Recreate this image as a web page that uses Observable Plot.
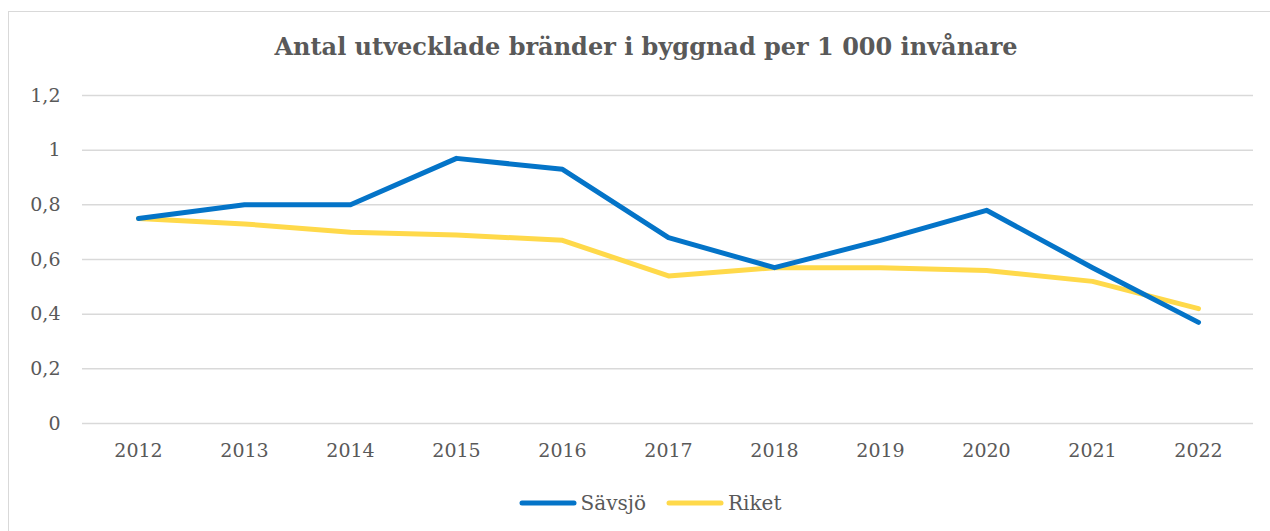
<!DOCTYPE html>
<html>
<head>
<meta charset="utf-8">
<script src="https://cdn.jsdelivr.net/npm/d3@7"></script>
<script src="https://cdn.jsdelivr.net/npm/@observablehq/plot@0.6"></script>
<style>
  html, body { margin: 0; padding: 0; background: #fff; width: 1270px; height: 531px; overflow: hidden; }
  #frame { position: absolute; left: 8px; top: 11px; width: 1290px; height: 560px; border: 1px solid #d9d9d9; box-sizing: border-box; }
  #title { position: absolute; left: 0; top: 32px; width: 1292px; text-align: center; font-family: "DejaVu Serif", serif; font-weight: bold; font-size: 24px; color: #595959; }
  #chart { position: absolute; left: 0; top: 70px; }
  #legend { position: absolute; left: 0; top: 489px; width: 1300px; text-align: center; font-family: "DejaVu Serif", serif; font-size: 20px; color: #595959; }
  #legend span.item { display: inline-flex; align-items: center; margin: 0 10px; font-family: "DejaVu Serif", serif; }
  #legend svg { margin-right: 4px; }
</style>
</head>
<body>
<div id="frame"></div>
<div id="title">Antal utvecklade bränder i byggnad per 1 000 invånare</div>
<div id="chart"></div>
<div id="legend"></div>
<script>
const years = ["2012","2013","2014","2015","2016","2017","2018","2019","2020","2021","2022"];
const savsjo = [0.75, 0.80, 0.80, 0.97, 0.93, 0.68, 0.57, 0.67, 0.78, 0.57, 0.37];
const riket  = [0.75, 0.73, 0.70, 0.69, 0.67, 0.54, 0.57, 0.57, 0.56, 0.52, 0.42];
const seriesNames = ["Sävsjö", "Riket"];
const seriesColors = ["#0474C8", "#FFD94A"];
const yTicks = [0, 0.2, 0.4, 0.6, 0.8, 1, 1.2];

const data = [];
years.forEach((yr, i) => {
  data.push({year: yr, value: savsjo[i], series: seriesNames[0]});
  data.push({year: yr, value: riket[i], series: seriesNames[1]});
});

const fmt = d => String(d).replace(".", ",");

const plot = Plot.plot({
  width: 1270,
  height: 410,
  marginLeft: 82,
  marginRight: 17,
  marginTop: 25,
  marginBottom: 57,
  style: { fontFamily: "DejaVu Serif, serif", fontSize: "19px", color: "#595959", background: "transparent" },
  x: { type: "point", domain: years, padding: 0.5, label: null },
  y: { domain: [0, 1.2], label: null },
  color: { domain: seriesNames, range: seriesColors },
  marks: [
    Plot.ruleY(yTicks, { stroke: "#d9d9d9", strokeWidth: 1.5 }),
    Plot.axisY(yTicks, { tickSize: 0, tickPadding: 22, tickFormat: fmt, label: null, fill: "#595959" }),
    Plot.axisX(years, { tickSize: 0, tickPadding: 20, label: null, fill: "#595959" }),
    Plot.line(data.filter(d => d.series === "Riket"), { x: "year", y: "value", stroke: "series", strokeWidth: 5, strokeLinecap: "round", strokeLinejoin: "round" }),
    Plot.line(data.filter(d => d.series === "Sävsjö"), { x: "year", y: "value", stroke: "series", strokeWidth: 5, strokeLinecap: "round", strokeLinejoin: "round" })
  ]
});
document.getElementById("chart").appendChild(plot);

const legend = document.getElementById("legend");
seriesNames.forEach((name, i) => {
  const item = document.createElement("span");
  item.className = "item";
  item.innerHTML = `<svg width="58" height="10"><line x1="3" y1="5" x2="55" y2="5" stroke="${seriesColors[i]}" stroke-width="5" stroke-linecap="round"/></svg>${name}`;
  legend.appendChild(item);
});
</script>
</body>
</html>
